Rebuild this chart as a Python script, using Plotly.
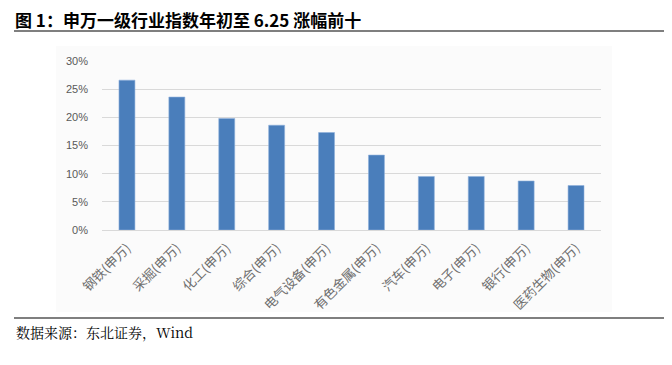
import plotly.graph_objects as go

categories = ["钢铁(申万)", "采掘(申万)", "化工(申万)", "综合(申万)", "电气设备(申万)",
              "有色金属(申万)", "汽车(申万)", "电子(申万)", "银行(申万)", "医药生物(申万)"]
values = [0.266, 0.236, 0.198, 0.186, 0.173, 0.133, 0.095, 0.095, 0.087, 0.079]
y_ticks = [0, 0.05, 0.10, 0.15, 0.20, 0.25, 0.30]
y_tick_labels = ["0%", "5%", "10%", "15%", "20%", "25%", "30%"]

W, H = 672, 365
OFF = 8  # page body offset
# target screen geometry of the plot area
SX0, SX1, SY0, SY1 = 102, 601, 61, 230
L, T = SX0 - OFF, SY0 - OFF
R, B = W - (SX1 - OFF), H - (SY1 - OFF)
PW, PH = W - L - R, H - T - B

def px(x):
    return (x - OFF - L) / PW

def py(y):
    return (H - B - (y - OFF)) / PH

fig = go.Figure(go.Bar(
    x=categories, y=values,
    marker=dict(color="#4a7ebb", line=dict(color="#8fb0db", width=0.6)),
    width=0.32,
))

fig.update_layout(
    width=W, height=H,
    margin=dict(l=L, r=R, t=T, b=B),
    paper_bgcolor="white", plot_bgcolor="rgba(0,0,0,0)",
    showlegend=False,
    font=dict(family="Noto Sans CJK SC", color="#595959"),
    xaxis=dict(tickangle=-45, tickfont=dict(size=13, color="#6e6e6e", family="Noto Sans CJK SC"),
               showgrid=False, showline=False, ticks="", ticklabelstandoff=7),
    yaxis=dict(range=[0, 0.30], tickvals=y_ticks, ticktext=y_tick_labels,
               tickfont=dict(size=11, color="#595959", family="Liberation Sans"),
               showgrid=True, gridcolor="#d9d9d9", gridwidth=1,
               zeroline=True, zerolinecolor="#d9d9d9", zerolinewidth=1,
               showline=False, ticks="", ticklabelstandoff=13),
    shapes=[
        dict(type="rect", xref="paper", yref="paper", x0=px(56), x1=px(612), y0=py(312), y1=py(46),
             fillcolor="#fbfbfb", line=dict(width=0), layer="below"),
        dict(type="line", xref="paper", yref="paper", x0=px(14), x1=px(664), y0=py(31), y1=py(31),
             line=dict(color="black", width=1.2)),
        dict(type="line", xref="paper", yref="paper", x0=px(14), x1=px(664), y0=py(318), y1=py(318),
             line=dict(color="black", width=1.2)),
    ],
    annotations=[
        dict(xref="paper", yref="paper", x=px(14), y=py(19), xanchor="left", yanchor="middle",
             text="<b>图 1：申万一级行业指数年初至 6.25 涨幅前十</b>", showarrow=False, borderpad=0,
             font=dict(size=17, color="black", family="Noto Sans CJK SC")),
        dict(xref="paper", yref="paper", x=px(14), y=py(332), xanchor="left", yanchor="middle",
             text="数据来源：东北证券，Wind", showarrow=False,
             font=dict(size=14, color="black", family="Noto Serif CJK SC, Noto Sans CJK SC")),
    ],
)

fig.write_html("out.html")
